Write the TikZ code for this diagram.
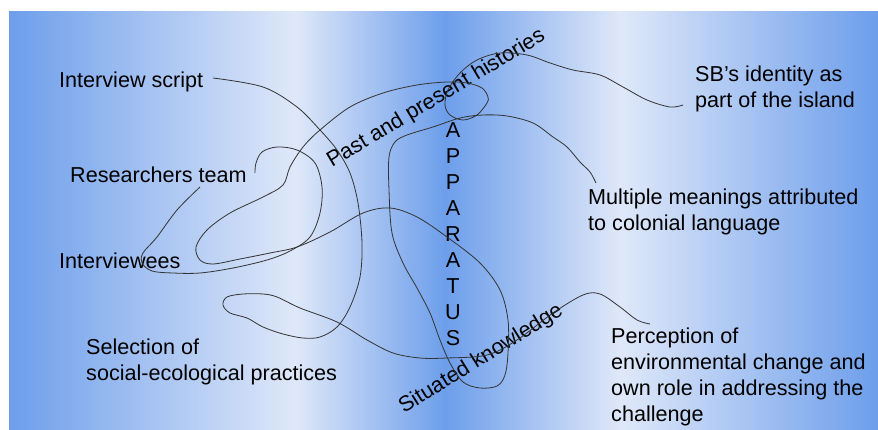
\documentclass[tikz,border=0pt]{standalone}
\usepackage{fontspec}
\setmainfont{Liberation Sans}
\begin{document}
\begin{tikzpicture}[x=1pt,y=-1pt,
  lbl/.style={inner sep=0pt, anchor=base west, align=left,
              font=\fontsize{21.6}{26}\selectfont, text=black},
  wire/.style={draw=black!80, line width=0.8pt}
]
\definecolor{bgblue}{RGB}{109,158,235}
\definecolor{bglight}{RGB}{223,232,249}
\useasboundingbox (0,0) rectangle (878,430);
\fill[white] (0,0) rectangle (878,430);
% banded background
\shade[left color=bgblue, right color=bglight] (9,12) rectangle (295.5,430);
\shade[left color=bglight, right color=bgblue] (295,12) rectangle (445.5,430);
\shade[left color=bgblue, right color=bglight] (445,12) rectangle (620.5,430);
\shade[left color=bglight, right color=bgblue] (620,12) rectangle (878,430);

% labels (multi-line labels are placed by the baseline of their last line)
\node[lbl] (script) at (59,88) {Interview script};
\node[lbl] (team) at (70,183) {Researchers team};
\node[lbl] (interviewees) at (59,269) {Interviewees};
\node[lbl] (selection) at (86,380) {Selection of\\social-ecological practices};
\node[lbl] (sb) at (695,108) {SB’s identity as\\part of the island};
\node[lbl] (meanings) at (588,231) {Multiple meanings attributed\\to colonial language};
\node[lbl] (perception) at (611,421) {Perception of\\environmental change and\\own role in addressing the\\challenge};
\node[lbl, align=center, anchor=base] (apparatus) at (453,345) {A\\P\\P\\A\\R\\A\\T\\U\\S};
\node[lbl, rotate=31] (past) at (332,168) {Past and present histories};
\node[lbl, rotate=32] (situated) at (404,414) {Situated knowledge};

% connector end points
\coordinate (scriptEnd) at (213,78);
\coordinate (percEnd) at (650,324);
\coordinate (teamA) at (200,187);
\coordinate (teamB) at (255,173);
\coordinate (meanEnd) at (596,183);
\coordinate (sbEnd) at (683,105);

% interview script -> perception
\draw[wire] plot[smooth, tension=0.55] coordinates {
  (scriptEnd) (263,87) (297,107) (320,130) (337,150) (350,173) (358,203)
  (362,243) (360,277) (350,307) (337,327) (320,337) (303,338) (283,334)
  (263,327) (247,318) (230,313) (223,305) (227,297) (243,294) (263,294)
  (277,297) (300,308) (337,322) (367,340) (393,353) (420,358) (447,358)
  (487,355) (517,340) (553,313) (583,295) (600,294) (620,307) (637,320)
  (percEnd)};

% researchers team <-> interviewees
\draw[wire] plot[smooth, tension=0.55] coordinates {
  (teamA) (177,210) (157,237) (143,253) (142,263) (152,271) (173,273)
  (200,273) (233,268) (267,260) (290,251) (310,237) (320,213) (322,187)
  (315,163) (297,150) (277,147) (262,152) (256,163) (teamB)};

% multiple meanings -> SB's identity
\draw[wire] plot[smooth, tension=0.55] coordinates {
  (meanEnd) (590,172) (580,162) (567,147) (553,137) (533,123) (507,116)
  (483,115) (460,118) (433,127) (407,135) (395,142) (389,157) (389,190)
  (392,233) (403,263) (417,288) (430,313) (440,340) (450,363) (463,382)
  (480,388) (497,386) (505,375) (508,353) (508,320) (500,290) (480,263)
  (447,237) (417,217) (390,208) (363,213) (330,232) (297,247) (270,253)
  (240,259) (213,264) (200,260) (196,247) (207,230) (230,213) (263,197)
  (283,185) (290,167) (303,147) (320,130) (350,107) (383,93) (417,85)
  (447,82) (467,83) (482,88) (488,97) (487,103) (477,115) (463,120)
  (450,115) (445,105) (448,90) (460,73) (477,60) (500,53) (527,55)
  (550,63) (573,70) (600,75) (623,87) (647,100) (670,107) (sbEnd)};
\end{tikzpicture}
\end{document}
